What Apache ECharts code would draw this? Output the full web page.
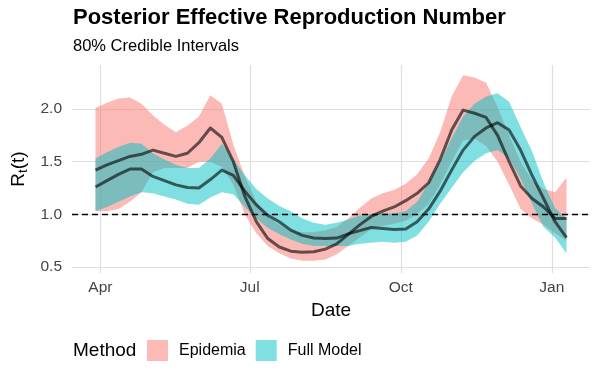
<!DOCTYPE html>
<html>
<head>
<meta charset="utf-8">
<script src="https://cdn.jsdelivr.net/npm/echarts@6/dist/echarts.min.js"></script>
<style>
html, body { margin: 0; padding: 0; background: #fff; }
#chart { width: 600px; height: 371px; }
</style>
</head>
<body>
<div id="chart"></div>
<script>
// weekly estimates, Sundays from 2020-03-29
var dates = ['2020-03-29', '2020-04-05', '2020-04-12', '2020-04-19', '2020-04-26', '2020-05-03', '2020-05-10',
    '2020-05-17', '2020-05-24', '2020-05-31', '2020-06-07', '2020-06-14', '2020-06-21', '2020-06-28',
    '2020-07-05', '2020-07-12', '2020-07-19', '2020-07-26', '2020-08-02', '2020-08-09', '2020-08-16',
    '2020-08-23', '2020-08-30', '2020-09-06', '2020-09-13', '2020-09-20', '2020-09-27', '2020-10-04',
    '2020-10-11', '2020-10-18', '2020-10-25', '2020-11-01', '2020-11-08', '2020-11-15', '2020-11-22',
    '2020-11-29', '2020-12-06', '2020-12-13', '2020-12-20', '2020-12-27', '2021-01-03', '2021-01-10'];

var epiMedian = [1.42, 1.47, 1.51, 1.55, 1.57, 1.61, 1.58, 1.55, 1.58, 1.68, 1.82, 1.73, 1.50, 1.17,
    0.93, 0.77, 0.69, 0.65, 0.64, 0.645, 0.67, 0.72, 0.81, 0.90, 0.98, 1.03, 1.07, 1.13,
    1.20, 1.30, 1.52, 1.80, 1.99, 1.96, 1.92, 1.75, 1.50, 1.27, 1.15, 1.07, 0.96, 0.96];
var epiLow = [1.03, 1.03, 1.05, 1.12, 1.21, 1.40, 1.44, 1.44, 1.44, 1.50, 1.50, 1.45, 1.28, 1.00,
    0.82, 0.70, 0.63, 0.58, 0.56, 0.56, 0.57, 0.62, 0.70, 0.78, 0.86, 0.89, 0.91, 0.94,
    1.00, 1.10, 1.28, 1.50, 1.70, 1.72, 1.65, 1.50, 1.28, 1.05, 0.96, 0.90, 0.82, 0.75];
var epiHigh = [2.01, 2.06, 2.10, 2.11, 2.05, 1.94, 1.85, 1.78, 1.84, 1.93, 2.13, 2.05, 1.66, 1.36,
    1.12, 0.98, 0.90, 0.85, 0.83, 0.83, 0.85, 0.88, 0.96, 1.06, 1.15, 1.20, 1.23, 1.29,
    1.38, 1.53, 1.78, 2.12, 2.32, 2.30, 2.25, 2.02, 1.75, 1.50, 1.32, 1.24, 1.21, 1.35];

var fullMedian = [1.26, 1.32, 1.38, 1.43, 1.43, 1.36, 1.32, 1.28, 1.255, 1.25, 1.33, 1.42, 1.37, 1.22,
    1.09, 0.99, 0.93, 0.85, 0.80, 0.775, 0.77, 0.775, 0.815, 0.845, 0.875, 0.865, 0.855, 0.86,
    0.93, 1.05, 1.22, 1.42, 1.61, 1.74, 1.82, 1.87, 1.80, 1.61, 1.37, 1.15, 0.93, 0.78];
var fullLow = [1.03, 1.07, 1.12, 1.17, 1.21, 1.20, 1.17, 1.14, 1.10, 1.09, 1.16, 1.21, 1.19, 1.07,
    0.96, 0.87, 0.81, 0.76, 0.72, 0.70, 0.70, 0.70, 0.70, 0.72, 0.73, 0.74, 0.73, 0.74,
    0.80, 0.93, 1.10, 1.25, 1.40, 1.51, 1.58, 1.61, 1.53, 1.34, 1.10, 0.88, 0.78, 0.63];
var fullHigh = [1.53, 1.59, 1.64, 1.68, 1.67, 1.58, 1.52, 1.47, 1.44, 1.44, 1.53, 1.67, 1.52, 1.37,
    1.24, 1.15, 1.08, 1.03, 0.96, 0.92, 0.90, 0.92, 0.95, 0.99, 1.00, 1.01, 1.01, 1.03,
    1.12, 1.30, 1.50, 1.72, 1.93, 2.05, 2.12, 2.15, 2.07, 1.83, 1.60, 1.30, 1.06, 0.96];

var xTickDates = ['2020-04-01', '2020-07-01', '2020-10-01', '2021-01-01'];
var xTickLabels = ['Apr', 'Jul', 'Oct', 'Jan'];
var yTicks = [0.5, 1.0, 1.5, 2.0];

var PINK = 'rgba(248,118,109,0.5)';
var CYAN = 'rgba(0,191,196,0.5)';
var LINE = 'rgba(0,0,0,0.6)';
var FONT = 'Liberation Sans';
var DAY = 86400000;

function toTime(s) {
    var p = s.split('-');
    return Date.UTC(+p[0], +p[1] - 1, +p[2]);
}
var times = dates.map(toTime);
var xTicks = xTickDates.map(toTime);

function pairs(values) {
    return values.map(function(v, i) { return [times[i], v]; });
}
function bandRows(lo, hi) {
    return lo.map(function(v, i) { return [times[i], v, hi[i]]; });
}

// ribbon: one polygon through upper edge then back along lower edge
function ribbonSeries(name, lo, hi, color) {
    return {
        type: 'custom', name: name, silent: true,
        data: bandRows(lo, hi),
        encode: { x: 0, y: [1, 2] },
        itemStyle: { color: color },
        renderItem: function(params, api) {
            if (params.dataIndex !== 0) return null;
            var pts = [];
            for (var i = 0; i < times.length; i++) pts.push(api.coord([times[i], hi[i]]));
            for (var j = times.length - 1; j >= 0; j--) pts.push(api.coord([times[j], lo[j]]));
            return {
                type: 'polygon',
                shape: { points: pts },
                style: { fill: color, stroke: null }
            };
        }
    };
}

var chart = echarts.init(document.getElementById('chart'));

chart.setOption({
    animation: false,
    textStyle: { fontFamily: FONT },
    title: [{
        text: 'Posterior Effective Reproduction Number',
        left: 73, top: 7, padding: 0,
        textStyle: { fontSize: 22, fontWeight: 'bold', color: '#000', fontFamily: FONT }
    }, {
        text: '80% Credible Intervals',
        left: 73, top: 38, padding: 0,
        textStyle: { fontSize: 16.5, fontWeight: 'normal', color: '#000', fontFamily: FONT }
    }],
    graphic: [{
        type: 'text', left: 73, top: 341,
        style: { text: 'Method', fontSize: 19, fill: '#000', fontFamily: FONT }
    }],
    legend: {
        data: [
            { name: 'Epidemia', itemStyle: { color: PINK, borderWidth: 0 } },
            { name: 'Full Model', itemStyle: { color: CYAN, borderWidth: 0 } }
        ],
        icon: 'rect',
        itemWidth: 21, itemHeight: 21, itemGap: 10,
        left: 147, top: 340, padding: 0,
        selectedMode: false,
        textStyle: { fontSize: 16, color: '#000', fontFamily: FONT, padding: [0, 0, 0, 6] }
    },
    grid: { left: 72, right: 10, top: 65, bottom: 98, containLabel: false },
    xAxis: {
        type: 'value',
        min: times[0] - 14.3 * DAY,
        max: times[times.length - 1] + 14.3 * DAY,
        axisLine: { show: false },
        axisTick: { show: false, customValues: xTicks },
        axisLabel: {
            customValues: xTicks,
            fontSize: 15.5, color: '#444', margin: 7,
            formatter: function(v) {
                var i = xTicks.indexOf(v);
                return i >= 0 ? xTickLabels[i] : '';
            }
        },
        splitLine: { show: true, lineStyle: { color: '#dedede', width: 1.2 } },
        name: 'Date', nameLocation: 'middle', nameGap: 24,
        nameTextStyle: { fontSize: 19, color: '#000' }
    },
    yAxis: {
        type: 'value', min: 0.443, max: 2.418,
        axisLine: { show: false },
        axisTick: { show: false, customValues: yTicks },
        axisLabel: {
            customValues: yTicks,
            fontSize: 15.5, color: '#444', margin: 10,
            formatter: function(v) { return v.toFixed(1); }
        },
        splitLine: { show: true, lineStyle: { color: '#dedede', width: 1.2 } },
        name: '{r|R}{s|t}{r|(t)}', nameLocation: 'middle', nameGap: 42, nameRotate: 90,
        nameTextStyle: {
            rich: {
                r: { fontSize: 19, color: '#000', fontFamily: FONT },
                s: { fontSize: 13, color: '#000', fontFamily: FONT, padding: [9, 0, 0, 0] }
            }
        }
    },
    series: [
        ribbonSeries('Epidemia', epiLow, epiHigh, PINK),
        ribbonSeries('Full Model', fullLow, fullHigh, CYAN),
        {
            type: 'line', name: 'epiMedian', data: pairs(epiMedian),
            showSymbol: false, symbol: 'none', silent: true,
            lineStyle: { color: LINE, width: 3, join: 'round' }
        },
        {
            type: 'line', name: 'fullMedian', data: pairs(fullMedian),
            showSymbol: false, symbol: 'none', silent: true,
            lineStyle: { color: LINE, width: 3, join: 'round' },
            markLine: {
                silent: true, symbol: 'none', label: { show: false },
                lineStyle: { color: '#000', type: [6, 4], width: 1.3 },
                data: [{ yAxis: 1 }]
            }
        }
    ]
});
</script>
</body>
</html>
